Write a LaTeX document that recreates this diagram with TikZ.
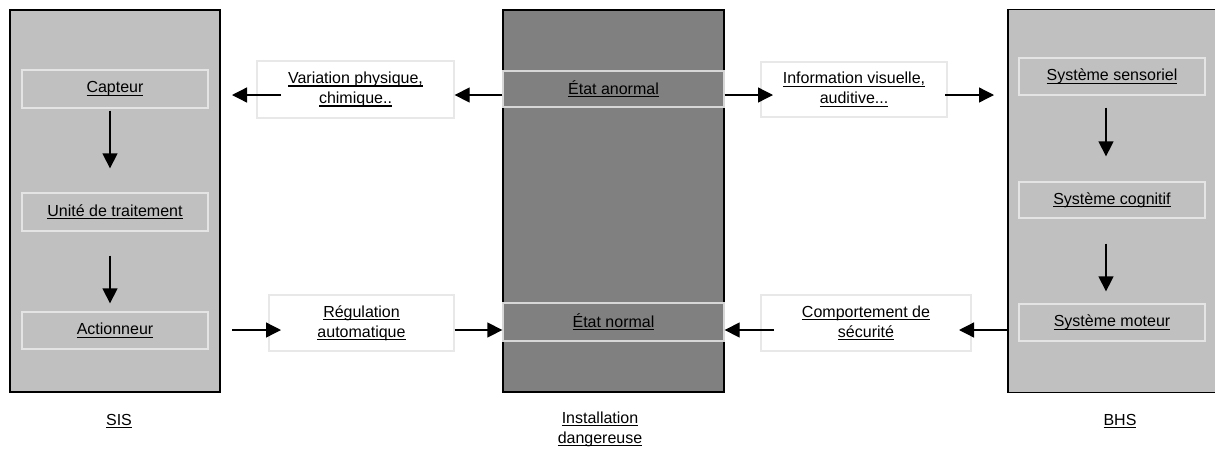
\documentclass[tikz,border=0pt]{standalone}
\usepackage{fontspec}
\setmainfont{Liberation Sans}
\usetikzlibrary{arrows.meta}
\definecolor{lightfill}{RGB}{192,192,192}
\definecolor{darkfill}{RGB}{128,128,128}
\definecolor{inline}{RGB}{228,228,228}
\definecolor{midline}{RGB}{215,215,215}
\definecolor{wline}{RGB}{232,232,232}
\newcommand\ulx[1]{\setbox0\hbox{#1}\rlap{\rule[-3pt]{\wd0}{1.2pt}}\box0}
\begin{document}
\begin{tikzpicture}[x=1pt,y=-1pt,
  every node/.style={font=\fontsize{16}{20}\selectfont, inner sep=0pt, align=center},
  outer/.style={draw=black, line width=1.3pt},
  inbox/.style={draw=inline, line width=1.3pt},
  midbox/.style={draw=midline, line width=1.3pt, fill=darkfill},
  whitebox/.style={draw=wline, line width=1.3pt, fill=white},
  arr/.style={-{Triangle[length=15pt,width=15pt]}, line width=1.3pt, black}]
\useasboundingbox (0,0) rectangle (1215,448);
\clip (0,0) rectangle (1215,448);

% outer columns
\node[outer, fill=lightfill, minimum width=210, minimum height=382] (sis) at (115,201) {};
\node[outer, fill=darkfill, minimum width=221, minimum height=382] (inst) at (613.5,201) {};
\node[outer, fill=lightfill, minimum width=230, minimum height=382.5] (bhs) at (1123,201) {};

% SIS inner
\node[inbox, minimum width=186, minimum height=38] (cap) at (115,89) {\ulx{Capteur}};
\node[inbox, minimum width=186, minimum height=38] (unit) at (115,212) {\ulx{Unité de traitement}};
\node[inbox, minimum width=186, minimum height=37] (act) at (115,330.5) {\ulx{Actionneur}};

% middle inner
\node[midbox, minimum width=221, minimum height=36] (anorm) at (613.5,89) {\ulx{État anormal}};
\node[midbox, minimum width=221, minimum height=38] (norm) at (613.5,322) {\ulx{État normal}};

% BHS inner
\node[inbox, minimum width=186, minimum height=37] (sens) at (1112,76.5) {\ulx{Système sensoriel}};
\node[inbox, minimum width=186, minimum height=36] (cog) at (1112,200) {\ulx{Système cognitif}};
\node[inbox, minimum width=186, minimum height=37] (mot) at (1112,322.5) {\ulx{Système moteur}};

% white boxes
\node[whitebox, minimum width=197, minimum height=57] (var) at (355.5,89.5) {\ulx{Variation physique,}\\\ulx{chimique..}};
\node[whitebox, minimum width=186, minimum height=55] (info) at (854,89.5) {\ulx{Information visuelle,}\\\ulx{auditive...}};
\node[whitebox, minimum width=185, minimum height=56] (reg) at (361.5,323) {\ulx{Régulation}\\\ulx{automatique}};
\node[whitebox, minimum width=210, minimum height=56] (comp) at (866,323) {\ulx{Comportement de}\\\ulx{sécurité}};

% labels
\node (lsis) at (119,421) {\ulx{SIS}};
\node (lbhs) at (1120,421) {\ulx{BHS}};
\node (linst) at (600,429) {\ulx{Installation}\\\ulx{dangereuse}};

% coordinates
\coordinate (ytop) at (0,95);
\coordinate (ybot) at (0,330);
\coordinate (a1s) at (281,95);
\coordinate (a1e) at (232,95);
\coordinate (a3e) at (773,95);
\coordinate (a4s) at (945,95);
\coordinate (a4e) at (994,95);
\coordinate (b1s) at (232,330);
\coordinate (b1e) at (281,330);
\coordinate (b3e) at (959,330);
\coordinate (b4s) at (774,330);

% vertical arrows
\draw[arr] ([xshift=-5pt,yshift=-2pt]cap.south) -- ([xshift=-5pt,yshift=24pt]unit.north);
\draw[arr] ([xshift=-5pt,yshift=-24pt]unit.south) -- ([xshift=-5pt,yshift=8pt]act.north);
\draw[arr] ([xshift=-6pt,yshift=-12pt]sens.south) -- ([xshift=-6pt,yshift=25pt]cog.north);
\draw[arr] ([xshift=-6pt,yshift=-25pt]cog.south) -- ([xshift=-6pt,yshift=12pt]mot.north);

% horizontal arrows, top
\draw[arr] (a1s) -- (a1e);
\draw[arr] (anorm.west |- ytop) -- (var.east |- ytop);
\draw[arr] (anorm.east |- ytop) -- (a3e);
\draw[arr] (a4s) -- (a4e);

% horizontal arrows, bottom
\draw[arr] (b1s) -- (b1e);
\draw[arr] (reg.east |- ybot) -- (norm.west |- ybot);
\draw[arr] (bhs.west |- ybot) -- (b3e);
\draw[arr] (b4s) -- (norm.east |- ybot);
\end{tikzpicture}
\end{document}
